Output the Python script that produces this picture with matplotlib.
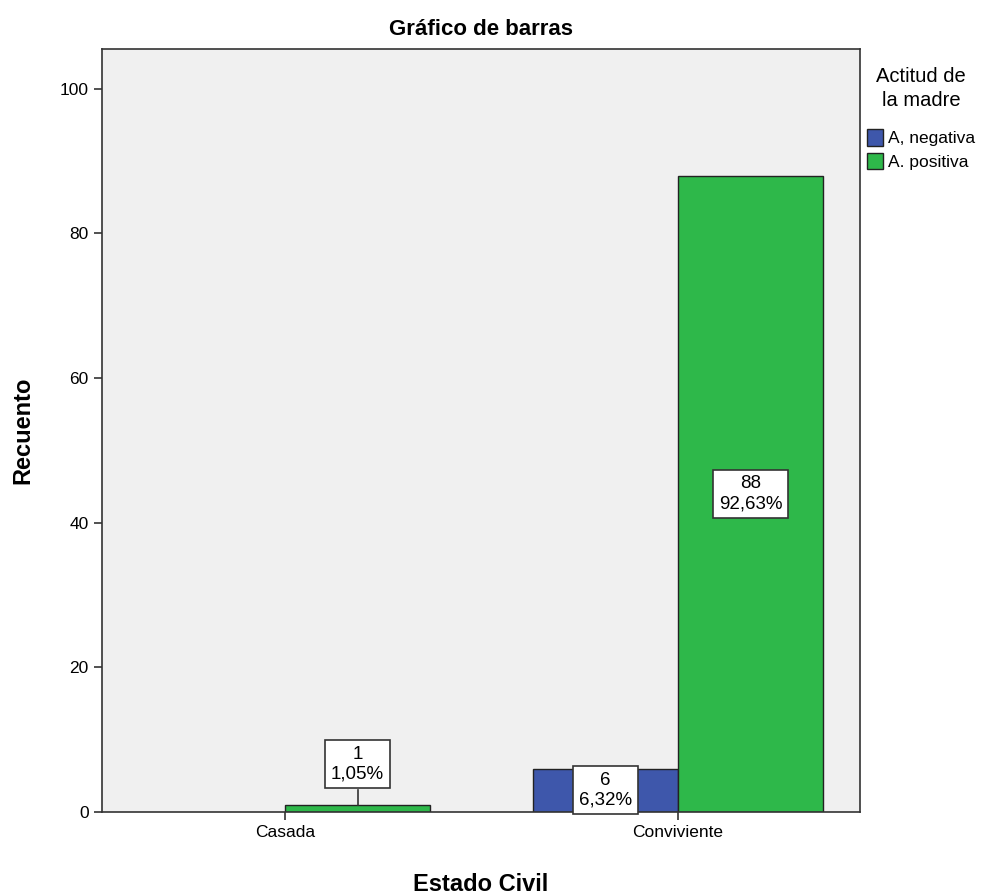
import matplotlib
matplotlib.use("Agg")
import matplotlib.pyplot as plt
from matplotlib.patches import Patch
import numpy as np

plt.rcParams['font.family'] = ['Liberation Sans', 'DejaVu Sans']

categorias = ['Casada', 'Conviviente']
series = ['A, negativa', 'A. positiva']
negativa = [0, 6]
positiva = [1, 88]
pct_negativa = ['', '6,32%']
pct_positiva = ['1,05%', '92,63%']
colores = ['#3E57AB', '#2EB84A']

fig = plt.figure(figsize=(9.96, 8.96), dpi=100)
ax = fig.add_axes([0.1024, 0.0938, 0.7611, 0.8515])
ax.set_facecolor('#F0F0F0')

x = np.arange(len(categorias))
w = 0.369
b1 = ax.bar(x - w / 2, negativa, w, color=colores[0], edgecolor='#222222', linewidth=1)
b2 = ax.bar(x + w / 2, positiva, w, color=colores[1], edgecolor='#222222', linewidth=1)
b1[0].set_visible(False)

caja = dict(boxstyle='square,pad=0.3', facecolor='white', edgecolor='#333333', linewidth=1.2)

# etiquetas dentro de las barras
ax.text(x[1] - w / 2, negativa[1] / 2, f"{negativa[1]}\n{pct_negativa[1]}", ha='center', va='center',
        fontsize=13.5, bbox=caja, linespacing=1.2)
ax.text(x[1] + w / 2, positiva[1] / 2, f"{positiva[1]}\n{pct_positiva[1]}", ha='center', va='center',
        fontsize=13.5, bbox=caja, linespacing=1.2)
# etiqueta de Casada encima con linea
ax.plot([x[0] + w / 2, x[0] + w / 2], [positiva[0], 3.0], color='#333333', linewidth=1.2)
ax.text(x[0] + w / 2, 6.6, f"{positiva[0]}\n{pct_positiva[0]}", ha='center', va='center',
        fontsize=13.5, bbox=caja, linespacing=1.2)

ax.set_xlim(-0.466, 1.463)
ax.set_ylim(0, 105.5)
ax.set_xticks(x)
ax.set_xticklabels(categorias, fontsize=12)
ax.set_yticks([0, 20, 40, 60, 80, 100])
ax.tick_params(axis='both', length=6, width=1.2, color='#333333', labelsize=12.5)
for s in ax.spines.values():
    s.set_color('#333333')
    s.set_linewidth(1.2)

ax.set_title('Gráfico de barras', fontsize=16, fontweight='bold', pad=10)
ax.set_xlabel('Estado Civil', fontsize=17, fontweight='bold', labelpad=24)
ax.set_ylabel('Recuento', fontsize=17, fontweight='bold', labelpad=18)

handles = [Patch(facecolor=colores[0], edgecolor='#222222', label=series[0]),
           Patch(facecolor=colores[1], edgecolor='#222222', label=series[1])]
leg = ax.legend(handles=handles, title='Actitud de\nla madre', loc='upper left',
                bbox_to_anchor=(0.993, 0.992), frameon=False, fontsize=12.5, title_fontsize=14.5,
                handlelength=0.9, handleheight=1.1, handletextpad=0.3, borderaxespad=0.3,
                labelspacing=0.35)
leg.get_title().set_multialignment('center')
leg.get_title().set_linespacing(1.3)
leg._legend_box.sep = 14

fig.savefig('out.png', dpi=100)
